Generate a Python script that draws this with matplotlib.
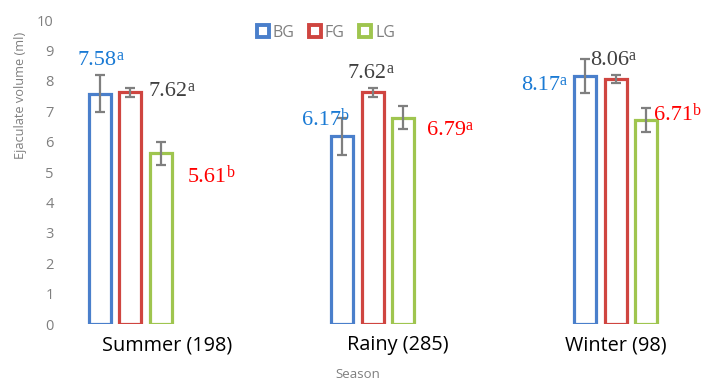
import numpy as np
import matplotlib
matplotlib.use("Agg")
import matplotlib.pyplot as plt
from matplotlib.lines import Line2D

# ---------------------------------------------------------------- data
seasons   = ["Summer (198)", "Rainy (285)", "Winter (98)"]
groups    = ["BG", "FG", "LG"]
means     = {"BG": [7.58, 6.17, 8.17],
             "FG": [7.62, 7.62, 8.06],
             "LG": [5.61, 6.79, 6.71]}
errors    = {"BG": [0.60, 0.62, 0.56],
             "FG": [0.15, 0.14, 0.13],
             "LG": [0.37, 0.38, 0.40]}
letters   = {"BG": ["a", "b", "a"],
             "FG": ["a", "a", "a"],
             "LG": ["b", "a", "b"]}

# ---------------------------------------------------------------- styles
BAR_COLORS  = {"BG": "#4a7fcb", "FG": "#cf4540", "LG": "#9fc54f"}
TEXT_COLORS = {"BG": "#1a7ad4", "FG": "#404040", "LG": "#ff0000"}
GRAY = "#7f7f7f"
SANS = ["Open Sans", "DejaVu Sans"]
SERIF = ["Liberation Serif", "DejaVu Serif"]

step, width = 0.1255, 0.0905
# label placement: left edge of the number (axis units, relative to group) and baseline
label_dx = {"BG": [-0.218, -0.292, -0.391],
            "FG": [0.074, -0.103, -0.107],
            "LG": [0.239, 0.222, 0.156]}
label_y  = {"BG": [8.51, 6.53, 7.69],
            "FG": [7.49, 8.09, 8.51],
            "LG": [4.66, 6.21, 6.70]}
tick_dx = [0.152, 0.103, 0.0]

fig = plt.figure(figsize=(7.03, 3.81), dpi=100)
ax = fig.add_axes([62 / 703, 1 - 324 / 381, 628 / 703, 304 / 381])

x = np.arange(len(seasons))
for i, g in enumerate(groups):
    xs = x + (i - 1) * step
    ax.bar(xs, means[g], width=width, facecolor="white",
           edgecolor=BAR_COLORS[g], linewidth=2.3, zorder=2)
    ax.errorbar(xs, means[g], yerr=errors[g], fmt="none", ecolor=GRAY,
                elinewidth=1.6, capsize=3.5, capthick=1.6, zorder=3)
    for j in range(len(seasons)):
        t = ax.text(x[j] + label_dx[g][j], label_y[g][j], f"{means[g][j]:.2f}",
                    color=TEXT_COLORS[g], fontsize=16, family=SERIF,
                    ha="left", va="baseline", zorder=4)
        # superscript letter, raised to sit near the top of the digits
        ax.annotate(letters[g][j], xy=(1, 1), xycoords=t, xytext=(0, 2.5),
                    textcoords="offset points", ha="left", va="top",
                    color=TEXT_COLORS[g], fontsize=11.5, family=SERIF, zorder=4)

ax.set_xlim(-0.28, 2.305)
ax.set_ylim(0, 10)
ax.set_yticks(range(0, 11))
ax.set_xticks(x + np.array(tick_dx))
ax.set_xticklabels(seasons, fontsize=14.3, family=SANS, color="black")
ax.tick_params(axis="x", length=0, pad=8)
ax.tick_params(axis="y", length=0, pad=6, labelcolor=GRAY, labelsize=10.5)
for lab in ax.get_yticklabels():
    lab.set_family(SANS)
for sp in ax.spines.values():
    sp.set_visible(False)

fig.text(21 / 703, 1 - 95 / 381, "Ejaculate volume (ml)", rotation=90,
         ha="center", va="center", color=GRAY, fontsize=9.2, family=SANS)
fig.text(358 / 703, 1 - 374 / 381, "Season", ha="center", va="center",
         color=GRAY, fontsize=9.5, family=SANS)

handles = [Line2D([], [], marker="s", linestyle="none", markersize=8,
                  markerfacecolor="white", markeredgecolor=BAR_COLORS[g],
                  markeredgewidth=2.8) for g in groups]
leg = fig.legend(handles, groups, loc="center", bbox_to_anchor=(325 / 703, 1 - 33 / 381),
                 ncol=3, frameon=False, handletextpad=0.1, columnspacing=0.8,
                 handlelength=1.0, prop={"family": SANS, "size": 11.5})
for txt in leg.get_texts():
    txt.set_color(GRAY)

fig.savefig("out.png", dpi=100, facecolor="white")
plt.close(fig)
